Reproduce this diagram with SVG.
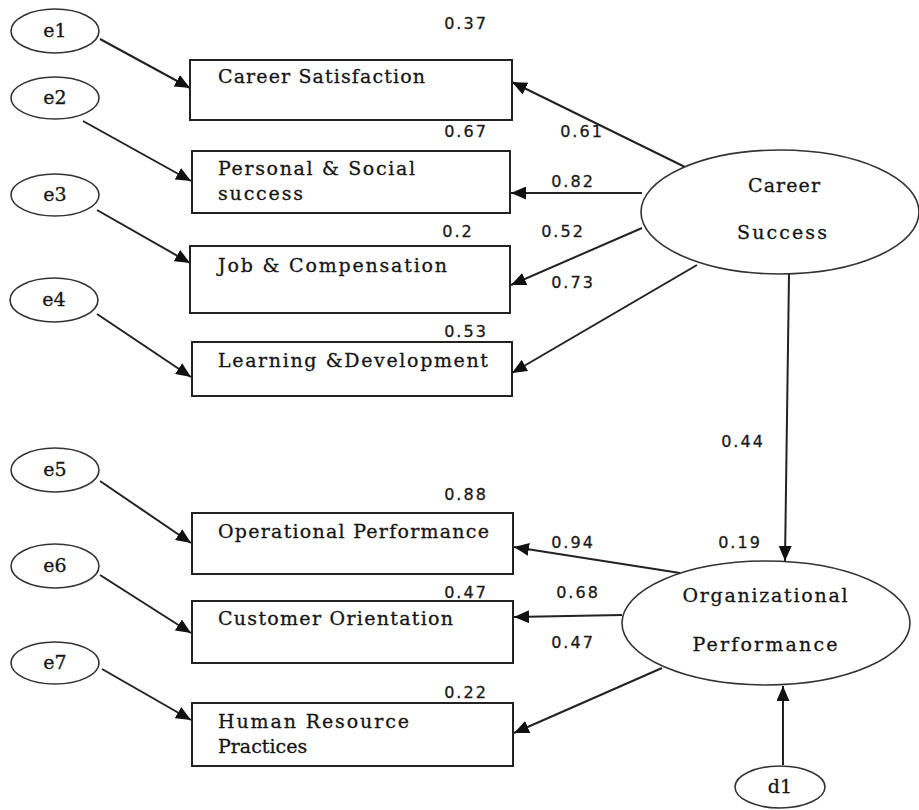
<svg xmlns="http://www.w3.org/2000/svg" width="919" height="810" viewBox="0 0 919 810">
<style>
.bg{fill:#fff}
.box{fill:#fff;stroke:#222;stroke-width:2}
.ell{fill:#fff;stroke:#333;stroke-width:1.6}
.lbl{font-family:"DejaVu Serif","Liberation Serif",serif;font-size:19px;fill:#151515;stroke:#151515;stroke-width:0.3}
.mid{text-anchor:middle}
.num{font-family:"DejaVu Sans","Verdana",sans-serif;font-size:16px;fill:#1a1a1a;text-anchor:middle;letter-spacing:2px;stroke:#1a1a1a;stroke-width:0.3}
.con{stroke:#222;stroke-width:2;fill:none;marker-end:url(#ah)}
</style>
<defs>
<marker id="ah" markerUnits="userSpaceOnUse" markerWidth="15" markerHeight="13" refX="15" refY="6.5" orient="auto">
<path d="M0,0 L15,6.5 L0,13 z" fill="#111"/>
</marker>
</defs>
<rect class="bg" x="0" y="0" width="919" height="810"/>

<g id="connectors">
<line class="con" x1="100" y1="39" x2="190" y2="88"/>
<line class="con" x1="83" y1="121" x2="191" y2="181"/>
<line class="con" x1="97" y1="210" x2="190" y2="263"/>
<line class="con" x1="97" y1="314" x2="191" y2="377"/>
<line class="con" x1="100" y1="481" x2="191" y2="543"/>
<line class="con" x1="100" y1="575" x2="191" y2="633"/>
<line class="con" x1="102" y1="669" x2="191" y2="720"/>
<line class="con" x1="685" y1="167" x2="512" y2="82"/>
<line class="con" x1="642" y1="193" x2="511" y2="193"/>
<line class="con" x1="642" y1="228" x2="511" y2="285"/>
<line class="con" x1="697" y1="265" x2="512" y2="373"/>
<line class="con" x1="789" y1="274" x2="785" y2="561"/>
<line class="con" x1="680" y1="573" x2="514" y2="547"/>
<line class="con" x1="622" y1="615" x2="514" y2="617"/>
<line class="con" x1="662" y1="668" x2="514" y2="733"/>
<line class="con" x1="783" y1="765" x2="783" y2="686"/>
</g>

<g id="e1"><ellipse class="ell" cx="55" cy="31" rx="44" ry="22"/><text class="lbl mid" x="55" y="37">e1</text></g>
<g id="e2"><ellipse class="ell" cx="55" cy="98" rx="44" ry="21"/><text class="lbl mid" x="55" y="104">e2</text></g>
<g id="e3"><ellipse class="ell" cx="55" cy="195" rx="44" ry="21"/><text class="lbl mid" x="55" y="201">e3</text></g>
<g id="e4"><ellipse class="ell" cx="54" cy="300" rx="44" ry="22"/><text class="lbl mid" x="54" y="306">e4</text></g>
<g id="e5"><ellipse class="ell" cx="55" cy="470" rx="44" ry="22"/><text class="lbl mid" x="55" y="476">e5</text></g>
<g id="e6"><ellipse class="ell" cx="55" cy="566" rx="44" ry="22"/><text class="lbl mid" x="55" y="572">e6</text></g>
<g id="e7"><ellipse class="ell" cx="55" cy="663" rx="44" ry="21"/><text class="lbl mid" x="55" y="669">e7</text></g>
<g id="d1"><ellipse class="ell" cx="780" cy="787" rx="45" ry="21"/><text class="lbl mid" x="780" y="793">d1</text></g>

<g id="career-satisfaction"><rect class="box" x="190" y="60" width="322" height="60"/><text class="lbl" x="218" y="83" textLength="207">Career Satisfaction</text></g>
<g id="personal-social"><rect class="box" x="192" y="151" width="318" height="62"/><text class="lbl" x="218" y="175" textLength="197">Personal &amp; Social</text><text class="lbl" x="218" y="200" textLength="85">success</text></g>
<g id="job-compensation"><rect class="box" x="190" y="246" width="320" height="67"/><text class="lbl" x="218" y="272" textLength="229">Job &amp; Compensation</text></g>
<g id="learning-development"><rect class="box" x="192" y="342" width="320" height="54"/><text class="lbl" x="218" y="367" textLength="270">Learning &amp;Development</text></g>
<g id="operational-performance"><rect class="box" x="192" y="513" width="321" height="61"/><text class="lbl" x="218" y="538" textLength="271">Operational Performance</text></g>
<g id="customer-orientation"><rect class="box" x="192" y="601" width="321" height="62"/><text class="lbl" x="218" y="625" textLength="235">Customer Orientation</text></g>
<g id="hr-practices"><rect class="box" x="192" y="703" width="321" height="63"/><text class="lbl" x="218" y="728" textLength="191">Human Resource</text><text class="lbl" x="218" y="753">Practices</text></g>

<g id="career-success"><ellipse class="ell" cx="780" cy="212" rx="139" ry="62"/><text class="lbl mid" x="784" y="192" textLength="72">Career</text><text class="lbl mid" x="782" y="239" textLength="90">Success</text></g>
<g id="organizational-performance"><ellipse class="ell" cx="766" cy="623" rx="144" ry="62"/><text class="lbl mid" x="765" y="602" textLength="165">Organizational</text><text class="lbl mid" x="765" y="651" textLength="145">Performance</text></g>

<g id="labels">
<text class="num" x="466" y="29">0.37</text>
<text class="num" x="466" y="137">0.67</text>
<text class="num" x="582" y="137">0.61</text>
<text class="num" x="573" y="187">0.82</text>
<text class="num" x="458" y="237">0.2</text>
<text class="num" x="563" y="237">0.52</text>
<text class="num" x="573" y="288">0.73</text>
<text class="num" x="466" y="337">0.53</text>
<text class="num" x="743" y="447">0.44</text>
<text class="num" x="466" y="500">0.88</text>
<text class="num" x="573" y="548">0.94</text>
<text class="num" x="740" y="548">0.19</text>
<text class="num" x="466" y="598">0.47</text>
<text class="num" x="578" y="598">0.68</text>
<text class="num" x="573" y="648">0.47</text>
<text class="num" x="466" y="698">0.22</text>
</g>
</svg>
